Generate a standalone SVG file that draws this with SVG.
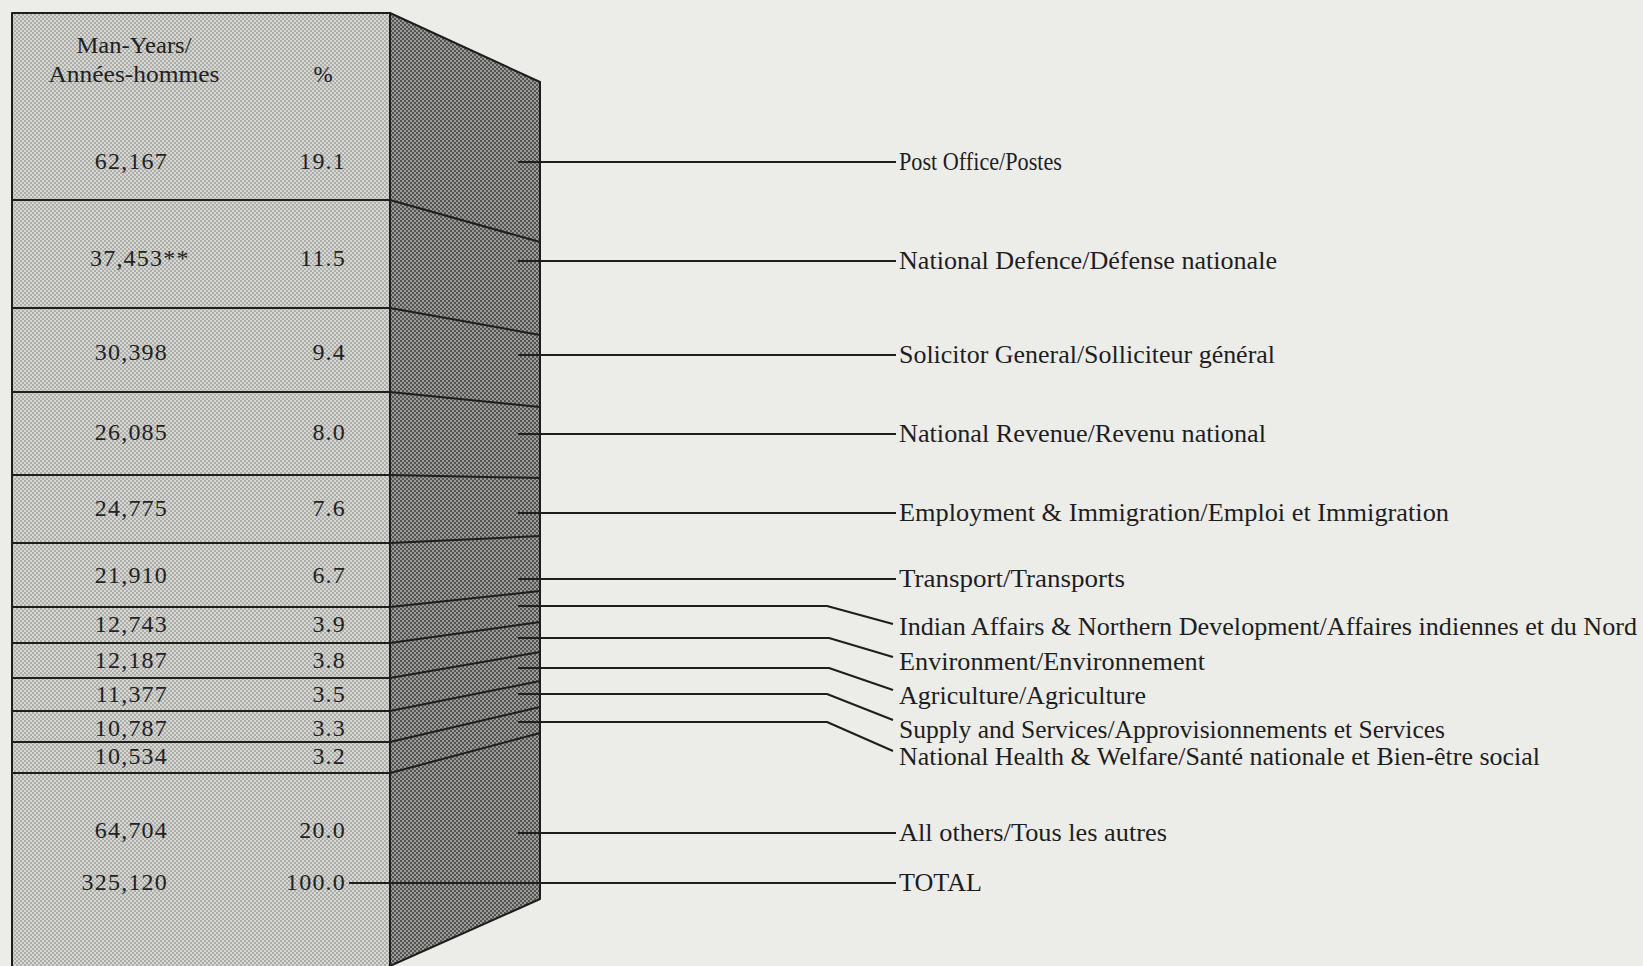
<svg xmlns="http://www.w3.org/2000/svg" width="1643" height="966" viewBox="0 0 1643 966">
<defs>
<pattern id="lightDots" width="4" height="4" patternUnits="userSpaceOnUse">
<rect width="4" height="4" fill="#d6d6d3"/>
<rect x="0" y="0" width="2" height="2" fill="#adadaa"/>
<rect x="2" y="2" width="2" height="2" fill="#adadaa"/>
</pattern>
<pattern id="darkDots" width="4" height="4" patternUnits="userSpaceOnUse">
<rect width="4" height="4" fill="#9a9a98"/>
<rect x="0" y="0" width="2" height="2" fill="#555553"/>
<rect x="2" y="2" width="2" height="2" fill="#555553"/>
</pattern>
<style>
.edge{stroke:#1e1e1e;stroke-width:2;fill:none}
.face{stroke:#1e1e1e;stroke-width:2;stroke-linejoin:round}
.light{fill:url(#lightDots)}
.dark{fill:url(#darkDots)}
.lead{stroke:#1e1e1e;stroke-width:2;fill:none;stroke-linejoin:round}
.num{font-family:"Liberation Serif","Times New Roman",serif;font-size:24px;fill:#222;letter-spacing:1.2px}
.hdr{font-family:"Liberation Serif","Times New Roman",serif;font-size:23px;fill:#222}
.lbl{font-family:"Liberation Serif","Times New Roman",serif;font-size:25px;fill:#1e1e1e}
</style>
</defs>
<rect width="1643" height="966" fill="#ecece9"/>

<g id="front-face">
<rect class="face light" x="12" y="13" width="378" height="960"/>
</g>
<g id="side-face">
<polygon class="face dark" points="390,13 540,82 540,899 390,966"/>
</g>

<g id="dividers">
<line class="edge" x1="12" y1="200" x2="390" y2="200"/><line class="edge" x1="390" y1="200" x2="540" y2="242"/>
<line class="edge" x1="12" y1="308" x2="390" y2="308"/><line class="edge" x1="390" y1="308" x2="540" y2="335"/>
<line class="edge" x1="12" y1="392" x2="390" y2="392"/><line class="edge" x1="390" y1="392" x2="540" y2="407"/>
<line class="edge" x1="12" y1="475" x2="390" y2="475"/><line class="edge" x1="390" y1="475" x2="540" y2="478"/>
<line class="edge" x1="12" y1="543" x2="390" y2="543"/><line class="edge" x1="390" y1="543" x2="540" y2="536"/>
<line class="edge" x1="12" y1="607" x2="390" y2="607"/><line class="edge" x1="390" y1="607" x2="540" y2="591"/>
<line class="edge" x1="12" y1="643" x2="390" y2="643"/><line class="edge" x1="390" y1="643" x2="540" y2="622"/>
<line class="edge" x1="12" y1="678" x2="390" y2="678"/><line class="edge" x1="390" y1="678" x2="540" y2="652"/>
<line class="edge" x1="12" y1="711" x2="390" y2="711"/><line class="edge" x1="390" y1="711" x2="540" y2="681"/>
<line class="edge" x1="12" y1="742" x2="390" y2="742"/><line class="edge" x1="390" y1="742" x2="540" y2="707"/>
<line class="edge" x1="12" y1="773" x2="390" y2="773"/><line class="edge" x1="390" y1="773" x2="540" y2="733"/>
</g>

<g id="header">
<text class="hdr" x="134" y="53" text-anchor="middle" textLength="115" lengthAdjust="spacingAndGlyphs">Man-Years/</text>
<text class="hdr" x="134" y="82" text-anchor="middle" textLength="171" lengthAdjust="spacingAndGlyphs">Années-hommes</text>
<text class="hdr" x="323" y="82" text-anchor="middle">%</text>
</g>

<g id="row-post"><text class="num" x="168" y="169" text-anchor="end">62,167</text><text class="num" x="346" y="169" text-anchor="end">19.1</text></g>
<g id="row-defence"><text class="num" x="90" y="266">37,453**</text><text class="num" x="346" y="266" text-anchor="end">11.5</text></g>
<g id="row-solicitor"><text class="num" x="168" y="360" text-anchor="end">30,398</text><text class="num" x="346" y="360" text-anchor="end">9.4</text></g>
<g id="row-revenue"><text class="num" x="168" y="440" text-anchor="end">26,085</text><text class="num" x="346" y="440" text-anchor="end">8.0</text></g>
<g id="row-employment"><text class="num" x="168" y="516" text-anchor="end">24,775</text><text class="num" x="346" y="516" text-anchor="end">7.6</text></g>
<g id="row-transport"><text class="num" x="168" y="583" text-anchor="end">21,910</text><text class="num" x="346" y="583" text-anchor="end">6.7</text></g>
<g id="row-indian"><text class="num" x="168" y="632" text-anchor="end">12,743</text><text class="num" x="346" y="632" text-anchor="end">3.9</text></g>
<g id="row-environment"><text class="num" x="168" y="668" text-anchor="end">12,187</text><text class="num" x="346" y="668" text-anchor="end">3.8</text></g>
<g id="row-agriculture"><text class="num" x="168" y="702" text-anchor="end">11,377</text><text class="num" x="346" y="702" text-anchor="end">3.5</text></g>
<g id="row-supply"><text class="num" x="168" y="736" text-anchor="end">10,787</text><text class="num" x="346" y="736" text-anchor="end">3.3</text></g>
<g id="row-health"><text class="num" x="168" y="764" text-anchor="end">10,534</text><text class="num" x="346" y="764" text-anchor="end">3.2</text></g>
<g id="row-others"><text class="num" x="168" y="838" text-anchor="end">64,704</text><text class="num" x="346" y="838" text-anchor="end">20.0</text></g>
<g id="row-total"><text class="num" x="168" y="890" text-anchor="end">325,120</text><text class="num" x="346" y="890" text-anchor="end">100.0</text></g>

<g id="connectors">
<polyline class="lead" points="518,162 896,162"/>
<polyline class="lead" points="518,261 896,261"/>
<polyline class="lead" points="518,355 896,355"/>
<polyline class="lead" points="518,434 896,434"/>
<polyline class="lead" points="518,513 896,513"/>
<polyline class="lead" points="518,579 896,579"/>
<polyline class="lead" points="518,606 827,606 893,624"/>
<polyline class="lead" points="518,638 829,638 893,657"/>
<polyline class="lead" points="518,668 829,668 893,690"/>
<polyline class="lead" points="518,694 827,694 893,720"/>
<polyline class="lead" points="518,722 827,722 893,751"/>
<polyline class="lead" points="518,833 896,833"/>
<polyline class="lead" points="349,883 896,883"/>
</g>

<g id="label-post"><text class="lbl" x="899" y="170" textLength="163" lengthAdjust="spacingAndGlyphs">Post Office/Postes</text></g>
<g id="label-defence"><text class="lbl" x="899" y="269" textLength="378" lengthAdjust="spacingAndGlyphs">National Defence/Défense nationale</text></g>
<g id="label-solicitor"><text class="lbl" x="899" y="363" textLength="376" lengthAdjust="spacingAndGlyphs">Solicitor General/Solliciteur général</text></g>
<g id="label-revenue"><text class="lbl" x="899" y="442" textLength="367" lengthAdjust="spacingAndGlyphs">National Revenue/Revenu national</text></g>
<g id="label-employment"><text class="lbl" x="899" y="521" textLength="550" lengthAdjust="spacingAndGlyphs">Employment &amp; Immigration/Emploi et Immigration</text></g>
<g id="label-transport"><text class="lbl" x="899" y="587" textLength="226" lengthAdjust="spacingAndGlyphs">Transport/Transports</text></g>
<g id="label-indian"><text class="lbl" x="899" y="635" textLength="738" lengthAdjust="spacingAndGlyphs">Indian Affairs &amp; Northern Development/Affaires indiennes et du Nord</text></g>
<g id="label-environment"><text class="lbl" x="899" y="670" textLength="306" lengthAdjust="spacingAndGlyphs">Environment/Environnement</text></g>
<g id="label-agriculture"><text class="lbl" x="899" y="704" textLength="247" lengthAdjust="spacingAndGlyphs">Agriculture/Agriculture</text></g>
<g id="label-supply"><text class="lbl" x="899" y="738" textLength="546" lengthAdjust="spacingAndGlyphs">Supply and Services/Approvisionnements et Services</text></g>
<g id="label-health"><text class="lbl" x="899" y="765" textLength="641" lengthAdjust="spacingAndGlyphs">National Health &amp; Welfare/Santé nationale et Bien-être social</text></g>
<g id="label-others"><text class="lbl" x="899" y="841" textLength="268" lengthAdjust="spacingAndGlyphs">All others/Tous les autres</text></g>
<g id="label-total"><text class="lbl" x="899" y="891" textLength="83" lengthAdjust="spacingAndGlyphs">TOTAL</text></g>
</svg>
